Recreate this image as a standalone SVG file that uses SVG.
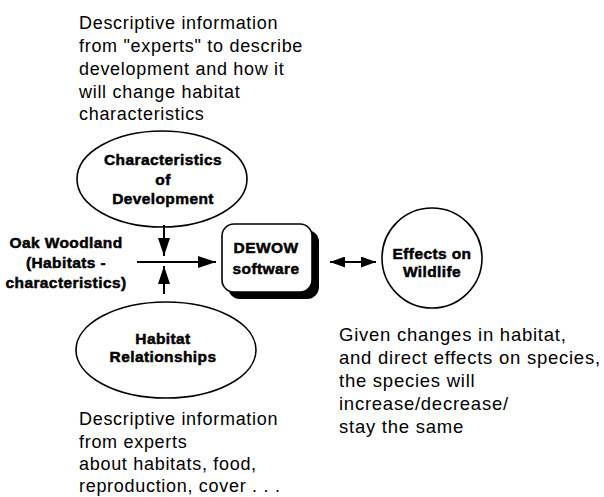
<svg xmlns="http://www.w3.org/2000/svg" width="604" height="497" viewBox="0 0 604 497">
<style>
.t{font-family:"Liberation Sans",Arial,sans-serif;font-size:18px;letter-spacing:0.7px;fill:#000}
.r{font-size:18.5px;letter-spacing:0.75px}
.b{font-family:"Liberation Sans",Arial,sans-serif;font-size:15.5px;font-weight:bold;letter-spacing:0.4px;fill:#000;stroke:#000;stroke-width:0.5;text-anchor:middle}
.s{fill:#fff;stroke:#000;stroke-width:1.6}
.c{stroke:#000;stroke-width:2;fill:none}
</style>
<defs>
<marker id="ah" viewBox="0 0 18 12" refX="18" refY="6" markerWidth="18" markerHeight="12" markerUnits="userSpaceOnUse" orient="auto">
<path d="M0,0 L18,6 L0,12 Z" fill="#000"/>
</marker>
<marker id="ah2" viewBox="0 0 15 11" refX="15" refY="5.5" markerWidth="15" markerHeight="11" markerUnits="userSpaceOnUse" orient="auto">
<path d="M0,0 L15,5.5 L0,11 Z" fill="#000"/>
</marker>
</defs>
<rect width="604" height="497" fill="#fff"/>
<g id="note-top">
<text class="t" x="79" y="29">Descriptive information</text>
<text class="t" x="79" y="52">from "experts" to describe</text>
<text class="t" x="79" y="75">development and how it</text>
<text class="t" x="79" y="97.5">will change habitat</text>
<text class="t" x="79" y="120">characteristics</text>
</g>
<g id="characteristics">
<ellipse class="s" cx="162" cy="179" rx="85" ry="48"/>
<text class="b" x="163" y="165">Characteristics</text>
<text class="b" x="163" y="185">of</text>
<text class="b" x="163" y="204">Development</text>
</g>
<g id="oak">
<text class="b" x="66" y="248">Oak Woodland</text>
<text class="b" x="66" y="268">(Habitats -</text>
<text class="b" x="66" y="288">characteristics)</text>
</g>
<g id="dewow">
<rect x="228" y="230" width="91" height="69" rx="12" fill="#000"/>
<rect class="s" x="222" y="224" width="90" height="68" rx="12"/>
<text class="b" x="266" y="253">DEWOW</text>
<text class="b" x="266" y="274">software</text>
</g>
<g id="effects">
<circle class="s" cx="432" cy="258" r="50"/>
<text class="b" x="432" y="259">Effects on</text>
<text class="b" x="432" y="277">Wildlife</text>
</g>
<g id="habitat">
<ellipse class="s" cx="166" cy="350" rx="90" ry="48"/>
<text class="b" x="163" y="344">Habitat</text>
<text class="b" x="163" y="362">Relationships</text>
</g>
<g id="note-right">
<text class="t r" x="339" y="341">Given changes in habitat,</text>
<text class="t r" x="339" y="364">and direct effects on species,</text>
<text class="t r" x="339" y="387">the species will</text>
<text class="t r" x="339" y="410">increase/decrease/</text>
<text class="t r" x="339" y="433">stay the same</text>
</g>
<g id="note-bottom">
<text class="t" x="79" y="425">Descriptive information</text>
<text class="t" x="79" y="447.5">from experts</text>
<text class="t" x="79" y="470">about habitats, food,</text>
<text class="t" x="79" y="492">reproduction, cover . . .</text>
</g>
<g id="connectors">
<line class="c" x1="137" y1="262" x2="216" y2="262" marker-end="url(#ah)"/>
<line class="c" x1="164" y1="225" x2="164" y2="256" marker-end="url(#ah)"/>
<line class="c" x1="164" y1="294" x2="164" y2="266" marker-end="url(#ah)"/>
<line class="c" x1="353" y1="262" x2="330" y2="262" marker-end="url(#ah2)"/>
<line class="c" x1="353" y1="262" x2="376" y2="262" marker-end="url(#ah2)"/>
</g>
</svg>
